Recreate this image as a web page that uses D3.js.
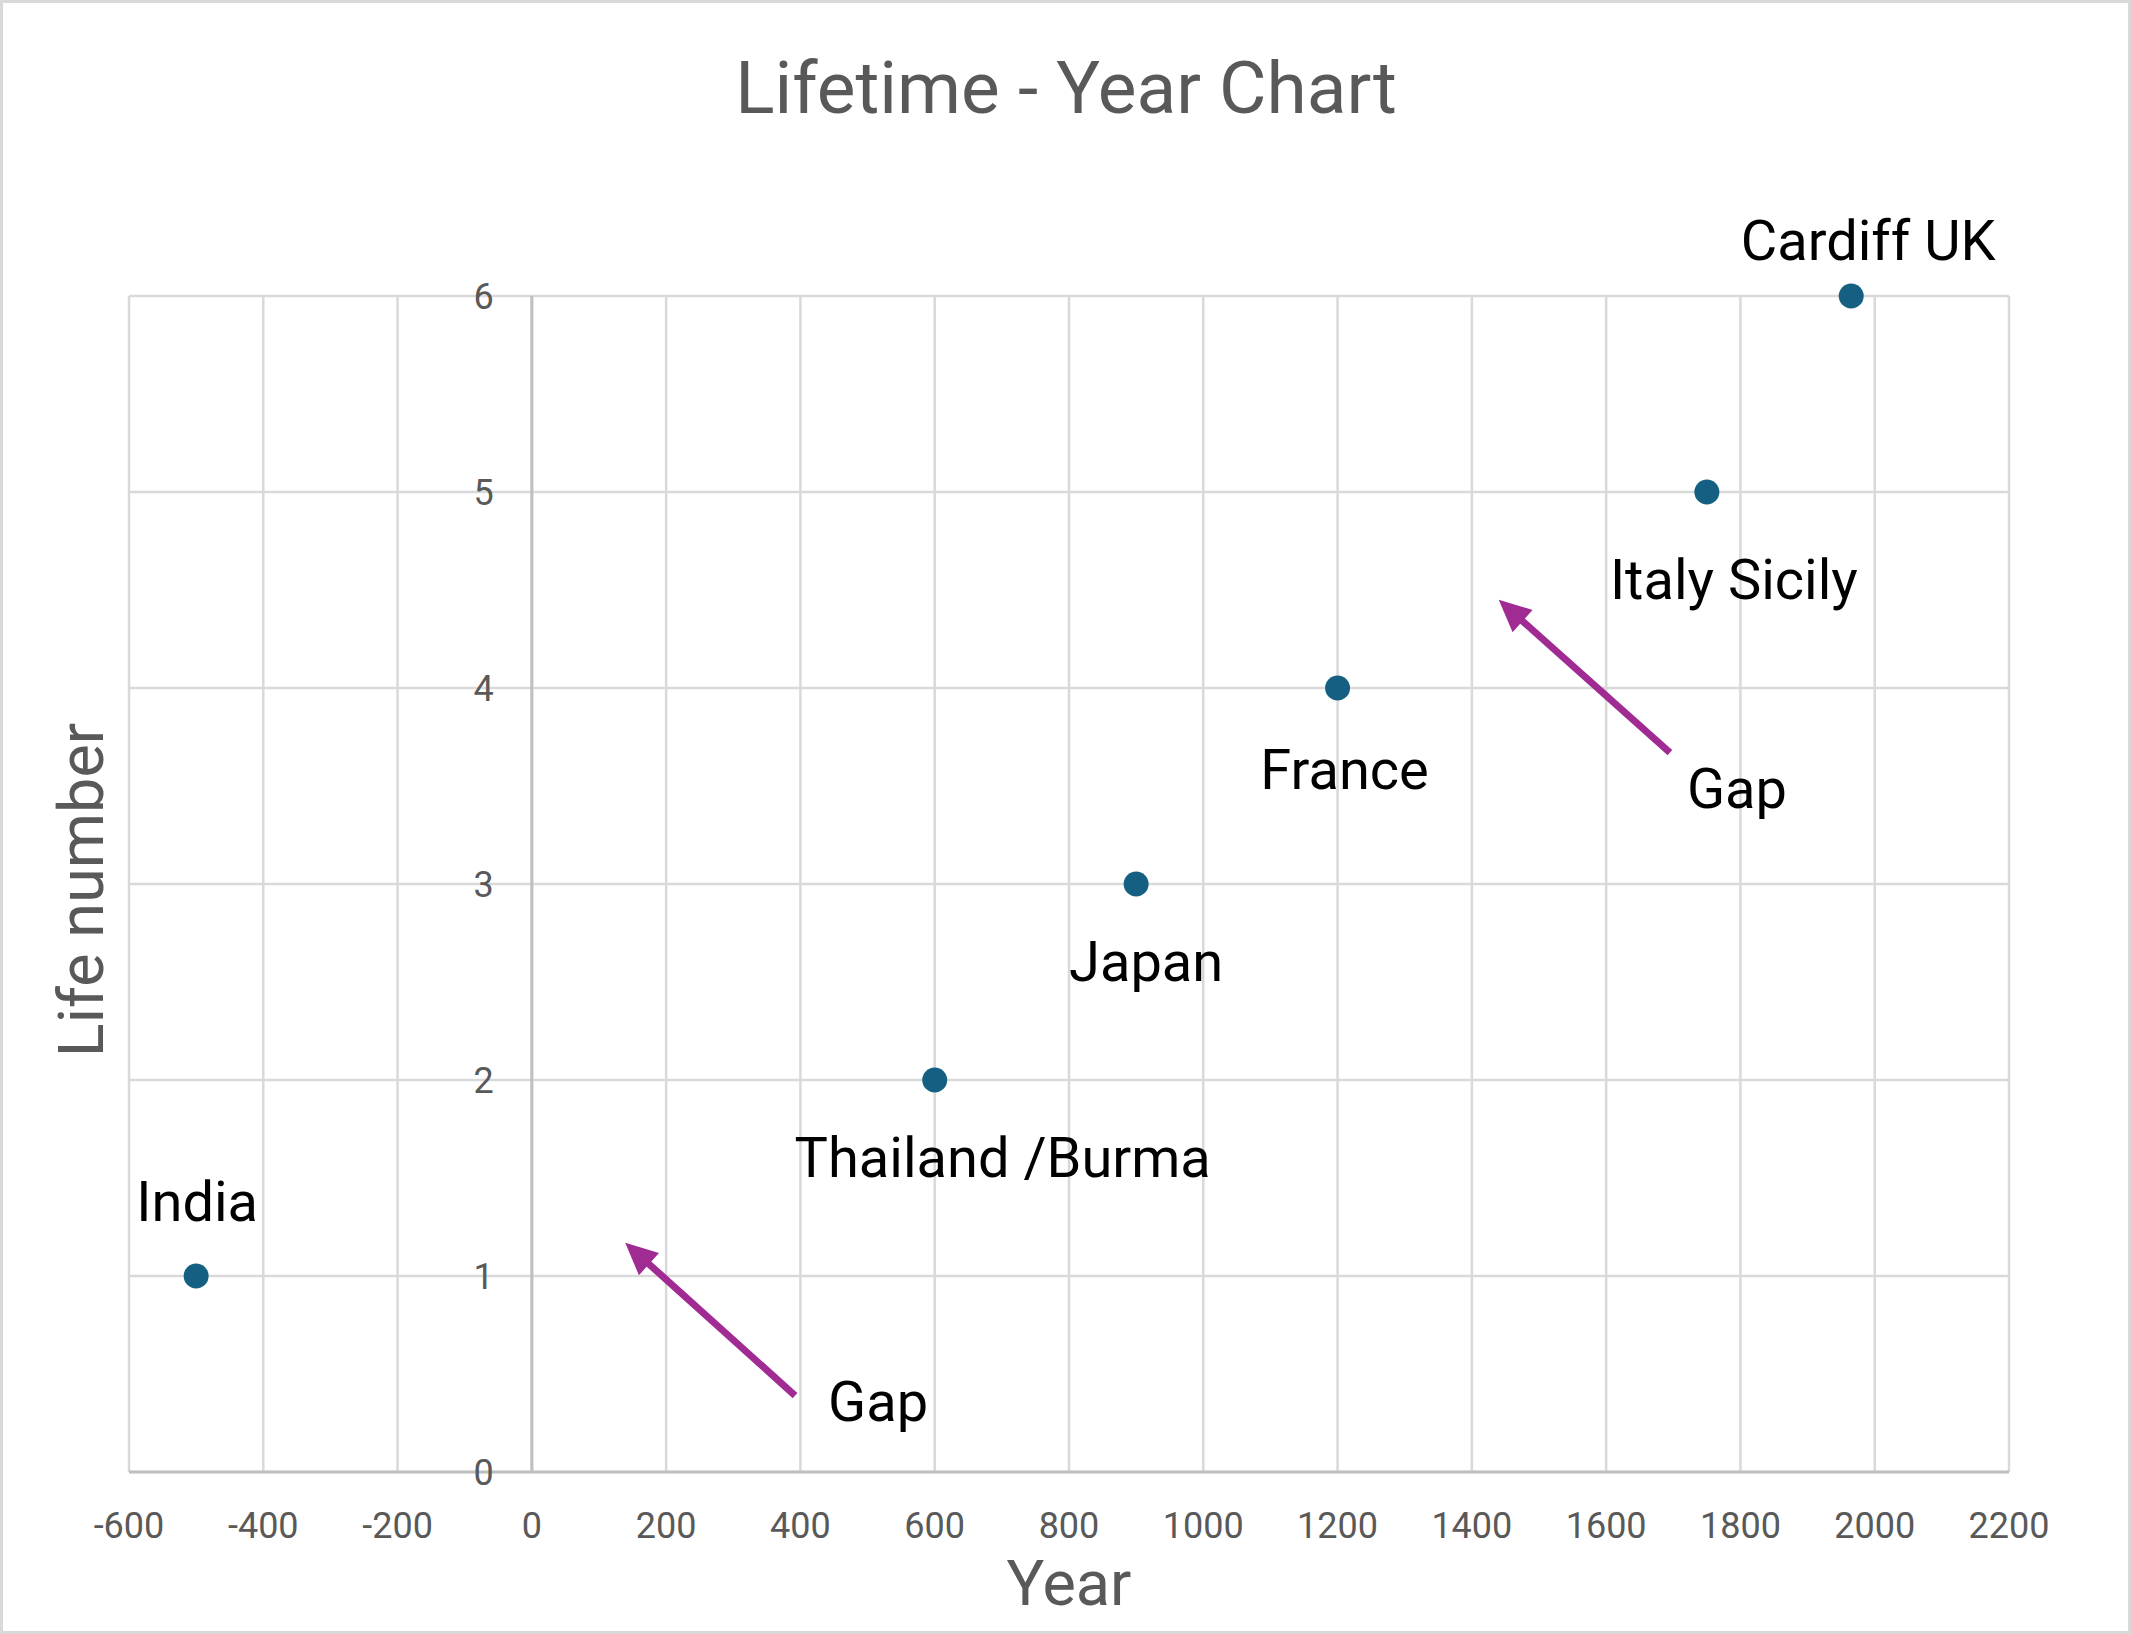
<!DOCTYPE html>
<html lang="en">
<head>
    <meta charset="UTF-8">
    <title>Lifetime - Year Chart</title>
    <script src="https://d3js.org/d3.v7.min.js"></script>
    <style>
        body { margin: 0; background: #fff; }
        text { font-family: Roboto, "Open Sans", sans-serif; }
        .grid line { stroke: #d9d9d9; stroke-width: 2.5; }
        .tick-label { fill: #595959; font-size: 36px; }
        .axis-title { fill: #595959; font-size: 63px; }
        .point-label { fill: #000; font-size: 56px; }
    </style>
</head>
<body>
    <div id="chart"></div>
    <script>
        // chart data
        const places = ["India", "Thailand /Burma", "Japan", "France", "Italy Sicily", "Cardiff UK"];
        const years = [-500, 600, 900, 1200, 1750, 1965];
        const lifeNumbers = [1, 2, 3, 4, 5, 6];

        const xTicks = [-600, -400, -200, 0, 200, 400, 600, 800, 1000, 1200, 1400, 1600, 1800, 2000, 2200];
        const yTicks = [0, 1, 2, 3, 4, 5, 6];

        // "Gap" callouts: arrow tail and tip in data units
        const gapTail = [[392, 0.39], [1695, 3.67]];
        const gapTip = [[139, 1.17], [1440, 4.45]];

        // label placement relative to each point / arrow tail (px)
        const labelOffset = [[1, -55], [68, 97], [10, 97], [7, 101], [27, 107], [17, -36]];
        const gapLabelOffset = [[33, 25], [17, 55]];

        const W = 2131, H = 1634;
        const margin = {top: 296, right: 122, bottom: 162, left: 129};
        const width = W - margin.left - margin.right,
              height = H - margin.top - margin.bottom;

        const svg = d3.select("#chart").append("svg")
            .attr("width", W)
            .attr("height", H);

        // outer chart border
        svg.append("rect")
            .attr("x", 1.5).attr("y", 1.5)
            .attr("width", W - 3).attr("height", H - 3)
            .attr("fill", "#fff")
            .attr("stroke", "#d9d9d9")
            .attr("stroke-width", 3);

        svg.append("text")
            .attr("x", 1066)
            .attr("y", 113)
            .attr("text-anchor", "middle")
            .style("font-size", "73px")
            .style("fill", "#595959")
            .text("Lifetime - Year Chart");

        const g = svg.append("g")
            .attr("transform", "translate(" + margin.left + "," + margin.top + ")");

        const x = d3.scaleLinear().domain([-600, 2200]).range([0, width]);
        const y = d3.scaleLinear().domain([0, 6]).range([height, 0]);

        // gridlines
        const grid = g.append("g").attr("class", "grid");
        grid.selectAll(".vg").data(xTicks).enter().append("line")
            .attr("x1", d => x(d)).attr("x2", d => x(d))
            .attr("y1", 0).attr("y2", height);
        grid.selectAll(".hg").data(yTicks).enter().append("line")
            .attr("x1", 0).attr("x2", width)
            .attr("y1", d => y(d)).attr("y2", d => y(d));

        // axis lines: horizontal at y=0, vertical at x=0
        g.append("line")
            .attr("x1", 0).attr("x2", width)
            .attr("y1", y(0)).attr("y2", y(0))
            .attr("stroke", "#bfbfbf").attr("stroke-width", 3);
        g.append("line")
            .attr("x1", x(0)).attr("x2", x(0))
            .attr("y1", y(6)).attr("y2", y(0))
            .attr("stroke", "#bfbfbf").attr("stroke-width", 3);

        // tick labels
        g.selectAll(".xl").data(xTicks).enter().append("text")
            .attr("class", "tick-label")
            .attr("x", d => x(d))
            .attr("y", height + 66)
            .attr("text-anchor", "middle")
            .text(d => d);

        g.selectAll(".yl").data(yTicks).enter().append("text")
            .attr("class", "tick-label")
            .attr("x", x(0) - 38)
            .attr("y", d => y(d))
            .attr("dy", "0.36em")
            .attr("text-anchor", "end")
            .text(d => d);

        // axis titles
        g.append("text")
            .attr("class", "axis-title")
            .attr("x", width / 2)
            .attr("y", height + 133)
            .attr("text-anchor", "middle")
            .text("Year");

        svg.append("text")
            .attr("class", "axis-title")
            .attr("transform", "translate(103," + (margin.top + height / 2 + 6) + ") rotate(-90)")
            .attr("text-anchor", "middle")
            .text("Life number");

        // points
        const points = places.map((p, i) => ({name: p, year: years[i], life: lifeNumbers[i]}));

        g.selectAll(".dot").data(points).enter().append("circle")
            .attr("cx", d => x(d.year))
            .attr("cy", d => y(d.life))
            .attr("r", 12.5)
            .attr("fill", "#156082");

        g.selectAll(".point-label").data(points).enter().append("text")
            .attr("class", "point-label")
            .attr("x", (d, i) => x(d.year) + labelOffset[i][0])
            .attr("y", (d, i) => y(d.life) + labelOffset[i][1])
            .attr("text-anchor", "middle")
            .text(d => d.name);

        // gap arrows
        const headLen = 32, headW = 15;
        gapTail.forEach((t, i) => {
            const x0 = x(t[0]), y0 = y(t[1]);
            const x1 = x(gapTip[i][0]), y1 = y(gapTip[i][1]);
            const dx = x1 - x0, dy = y1 - y0, len = Math.hypot(dx, dy);
            const ux = dx / len, uy = dy / len;
            const bx = x1 - ux * headLen, by = y1 - uy * headLen;
            g.append("line")
                .attr("x1", x0).attr("y1", y0)
                .attr("x2", bx + ux * 2).attr("y2", by + uy * 2)
                .attr("stroke", "#A02B93")
                .attr("stroke-width", 7);
            g.append("path")
                .attr("d", "M" + x1 + "," + y1 +
                    "L" + (bx - uy * headW) + "," + (by + ux * headW) +
                    "L" + (bx + uy * headW) + "," + (by - ux * headW) + "Z")
                .attr("fill", "#A02B93");
            g.append("text")
                .attr("class", "point-label")
                .attr("x", x0 + gapLabelOffset[i][0])
                .attr("y", y0 + gapLabelOffset[i][1])
                .attr("text-anchor", "start")
                .text("Gap");
        });
    </script>
</body>
</html>
